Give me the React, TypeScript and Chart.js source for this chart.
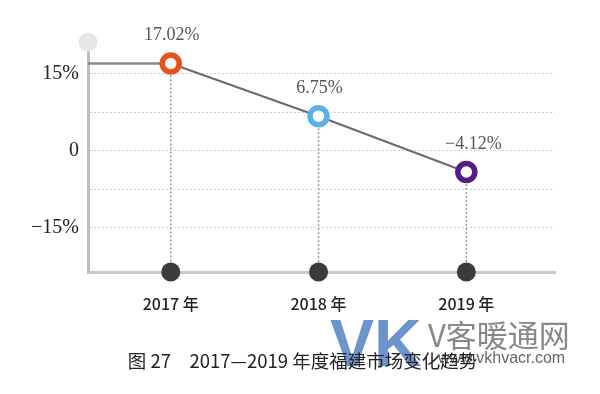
import React, { useEffect, useRef } from "react";
import { Chart, registerables } from "chart.js";

Chart.register(...registerables);

const years = [2017, 2018, 2019];
const values = [17.02, 6.75, -4.12];
const valueLabels = ["17.02%", "6.75%", "\u22124.12%"];
const xLabels = ["2017 年", "2018 年", "2019 年"];
const yTicks = [-15, -7.5, 0, 7.5, 15];
const yTickLabels: Record<string, string> = { "15": "15%", "0": "0", "-15": "\u221215%" };
const pointColors = ["#e8501e", "#5bb0e8", "#5a1a8a"];
const X_MIN = 2016.44;
const X_MAX = 2019.6;
const Y_MIN = -23.6;
const Y_MAX = 21.2;
const caption = "图 27\u30002017—2019 年度福建市场变化趋势";

const MAIN_INDEX = 4;

const labelPlugin = {
  id: "valueLabels",
  afterDatasetsDraw(chart: any) {
    const meta = chart.getDatasetMeta(MAIN_INDEX);
    const ctx = chart.ctx;
    ctx.save();
    ctx.font = '18px "Liberation Serif", serif';
    ctx.fillStyle = "#555";
    ctx.textAlign = "center";
    ctx.textBaseline = "middle";
    meta.data.forEach((pt: any, i: number) => {
      ctx.fillText(valueLabels[i], pt.x + (i === 2 ? 7 : 1), pt.y - 28);
    });
    ctx.restore();
  },
};

export default function App() {
  const ref = useRef<HTMLCanvasElement>(null);
  useEffect(() => {
    if (!ref.current) return;
    const dropLines = years.map((yr, i) => ({
      data: [
        { x: yr, y: values[i] },
        { x: yr, y: Y_MIN },
      ],
      borderColor: "#9a9a9a",
      borderWidth: 1.5,
      borderDash: [2, 2],
      pointRadius: 0,
      clip: false as any,
      order: 10,
    }));
    const chart = new Chart(ref.current, {
      type: "line",
      data: {
        datasets: [
          ...dropLines,
          {
            data: [
              { x: X_MIN, y: values[0] },
              { x: years[0], y: values[0] },
            ],
            borderColor: "#8a8a8a",
            borderWidth: 2.5,
            pointRadius: 0,
            clip: false as any,
            order: 9,
          },
          {
            data: years.map((yr, i) => ({ x: yr, y: values[i] })),
            borderColor: "#6a6a6a",
            borderWidth: 2,
            pointRadius: 8.5,
            pointBorderWidth: 5.5,
            pointBackgroundColor: "#ffffff",
            pointBorderColor: pointColors,
            clip: false as any,
            order: 1,
          },
          {
            data: years.map((yr) => ({ x: yr, y: Y_MIN })),
            showLine: false,
            pointRadius: 9.5,
            pointBorderWidth: 0,
            pointBackgroundColor: "#3b3b3b",
            clip: false as any,
            order: 2,
          },
          {
            data: [{ x: X_MIN, y: Y_MAX }],
            showLine: false,
            pointRadius: 9.5,
            pointBorderWidth: 0,
            pointBackgroundColor: "#e6e6e6",
            clip: false as any,
            order: 3,
          },
        ] as any,
      },
      options: {
        animation: false,
        responsive: false,
        layout: { padding: { top: 42, right: 45, left: 0, bottom: 0 } },
        plugins: { legend: { display: false }, tooltip: { enabled: false } },
        scales: {
          x: {
            type: "linear",
            min: X_MIN,
            max: X_MAX,
            afterBuildTicks: (axis: any) => {
              axis.ticks = years.map((v) => ({ value: v }));
            },
            afterFit: (axis: any) => {
              axis.height = 394 - 272;
            },
            grid: { display: false, drawTicks: false },
            border: { color: "#c9c9c9", width: 3 },
            ticks: {
              padding: 22,
              color: "#222",
              font: { family: '"Noto Sans CJK SC", sans-serif', size: 16, weight: "500" as any },
              callback: (v: any) => xLabels[years.indexOf(Number(v))] ?? "",
            },
          },
          y: {
            min: Y_MIN,
            max: Y_MAX,
            afterBuildTicks: (axis: any) => {
              axis.ticks = yTicks.map((v) => ({ value: v }));
            },
            afterFit: (axis: any) => {
              axis.width = 88;
            },
            grid: {
              drawTicks: false,
              color: "#cfcfcf",
              lineWidth: 1,
            },
            border: { color: "#bdbdbd", width: 3, dash: [2, 2] as any },
            ticks: {
              padding: 9,
              color: "#222",
              font: { family: '"Liberation Serif", serif', size: 20 },
              callback: (v: any) => yTickLabels[String(v)] ?? "",
            },
          },
        },
      },
      plugins: [labelPlugin],
    });
    return () => chart.destroy();
  }, []);

  return (
    <div style={{ position: "absolute", left: 0, top: 0, width: 600, height: 394, background: "#fff", overflow: "hidden" }}>
      <canvas ref={ref} width={600} height={394} style={{ position: "absolute", left: 0, top: 0 }} />
      <div style={{ position: "absolute", left: 330, top: 305, font: 'bold 66px "Liberation Sans", sans-serif', color: "rgba(82,130,196,0.85)", letterSpacing: 0 }}>VK</div>
      <div style={{ position: "absolute", left: 428, top: 311, font: '31px "Noto Sans CJK SC", sans-serif', color: "#888", whiteSpace: "nowrap" }}>V客暖通网</div>
      <div style={{ position: "absolute", left: 438, top: 349, font: '16px "Liberation Sans", sans-serif', color: "#666", whiteSpace: "nowrap" }}>www.vkhvacr.com</div>
      <div style={{ position: "absolute", left: 0, width: 605, top: 347, textAlign: "center", font: '18.5px "Noto Sans CJK SC", sans-serif', color: "#222", whiteSpace: "pre" }}>{caption}</div>
    </div>
  );
}
